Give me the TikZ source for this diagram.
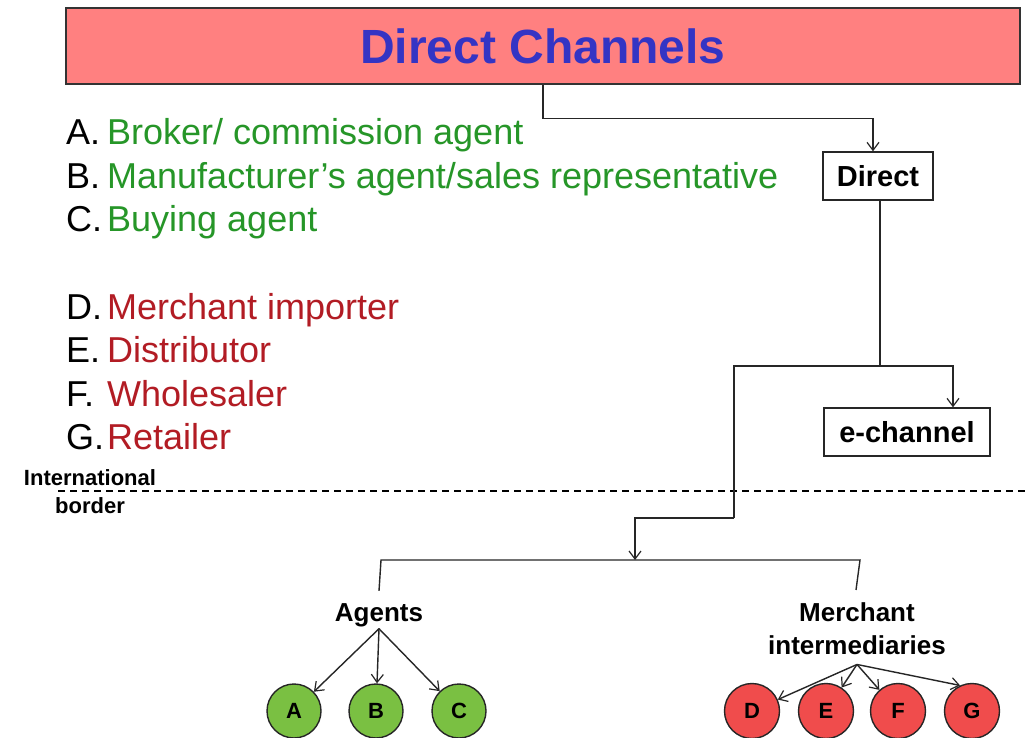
\documentclass[tikz,border=0pt]{standalone}
\usepackage{fontspec}
\setmainfont{Liberation Sans}
\usetikzlibrary{arrows.meta}
\definecolor{titlefill}{RGB}{255,128,128}
\definecolor{titleblue}{RGB}{52,52,196}
\definecolor{grn}{RGB}{38,150,40}
\definecolor{rd}{RGB}{178,28,36}
\definecolor{cgreen}{RGB}{122,192,66}
\definecolor{cred}{RGB}{240,76,76}
\newcommand{\fsz}[1]{\fontsize{#1}{#1}\selectfont}
\tikzset{
  conn/.style={line width=1.4pt, draw=black!85},
  arr/.style={conn, -{Straight Barb[length=8pt,width=12pt,line width=1.2pt]}},
  boxnode/.style={draw=black!85, line width=1.4pt, fill=white, font=\fsz{29}\bfseries, inner sep=0pt},
  listline/.style={anchor=base west, font=\fsz{36}, inner sep=0pt},
  labelnode/.style={font=\fsz{26}\bfseries, inner sep=2pt, align=center},
  gcirc/.style={circle, draw=black!85, line width=1.4pt, fill=cgreen, minimum size=54pt, inner sep=0pt, font=\fsz{22}\bfseries},
  rcirc/.style={circle, draw=black!85, line width=1.4pt, fill=cred, minimum size=55pt, inner sep=0pt, font=\fsz{22}\bfseries},
}
\begin{document}
\begin{tikzpicture}[x=1pt,y=-1pt]
\useasboundingbox (0,0) rectangle (1028,737);
\fill[white] (0,0) rectangle (1028,737);

% title
\node[draw=black!80, line width=1.4pt, fill=titlefill, minimum width=954pt, minimum height=76pt, inner sep=0pt,
      font=\fsz{48}\bfseries, text=titleblue] (title) at (543,46) {Direct Channels};

% list
\node[listline] (la) at (66,144) {\makebox[41pt][l]{A.}\textcolor{grn}{Broker/ commission agent}};
\node[listline] (lb) at (66,188) {\makebox[41pt][l]{B.}\textcolor{grn}{Manufacturer’s agent/sales representative}};
\node[listline] (lc) at (66,231) {\makebox[41pt][l]{C.}\textcolor{grn}{Buying agent}};
\node[listline] (ld) at (66,319) {\makebox[41pt][l]{D.}\textcolor{rd}{Merchant importer}};
\node[listline] (le) at (66,362) {\makebox[41pt][l]{E.}\textcolor{rd}{Distributor}};
\node[listline] (lf) at (66,406) {\makebox[41pt][l]{F.}\textcolor{rd}{Wholesaler}};
\node[listline] (lg) at (66,449) {\makebox[41pt][l]{G.}\textcolor{rd}{Retailer}};

% boxes
\node[boxnode, minimum width=110pt, minimum height=48pt] (direct) at (878,176) {Direct};
\node[boxnode, minimum width=166pt, minimum height=48pt] (echan) at (907,432) {e-channel};

% border
\draw[line width=1.3pt, dash pattern=on 7pt off 5pt] (58,491) -- (1028,491);
\node[font=\fsz{22}\bfseries, align=center, inner sep=0pt] (intl) at (90,492) {International\\[6pt]border};

% connectors
\coordinate (j1) at (880,366);
\coordinate (k1) at (734,518);
\coordinate (bm) at (635,560);
\coordinate (bl) at (381,560);
\coordinate (br) at (860,560);

\draw[arr] (title.south) -- ++(0,34) -| ([xshift=-5pt]direct.north);
\draw[conn] (direct.south -| j1) -- (j1);
\draw[arr] (j1) -| ([xshift=46pt]echan.north);
\draw[conn] (j1) -| (k1);
\draw[arr] (k1) -| (bm);

% agents / merchants
\node[labelnode, anchor=base] (agents) at (379,621) {Agents};
\node[labelnode, anchor=base] (merch) at (857,654) {Merchant\\[7pt]intermediaries};
\draw[conn] ([yshift=10pt]agents.north) -- (bl) -- (br) -- ([xshift=-1pt,yshift=10pt]merch.north);

% circles
\node[gcirc] (A) at (294,711) {A};
\node[gcirc] (B) at (376,711) {B};
\node[gcirc] (C) at (459,711) {C};
\node[rcirc] (D) at (752,711) {D};
\node[rcirc] (E) at (826,711) {E};
\node[rcirc] (F) at (898,711) {F};
\node[rcirc] (G) at (972,711) {G};

\foreach \t in {A,B,C} \draw[arr] (agents.south) -- (\t);
\foreach \t in {D,E,F} \draw[arr] ([yshift=-8pt]merch.south) -- (\t);
\draw[arr] ([yshift=-8pt]merch.south) -- (G.115);
\end{tikzpicture}
\end{document}
